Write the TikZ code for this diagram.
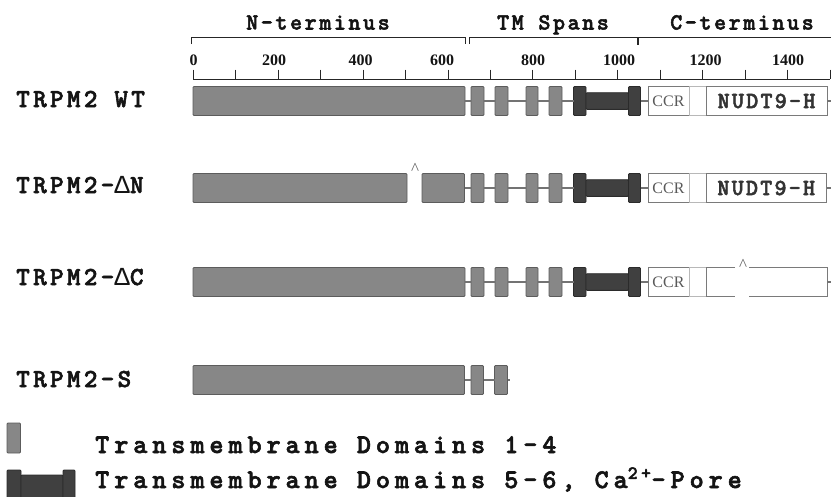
\documentclass[tikz,border=0pt]{standalone}
\usepackage{fontspec}
\setmainfont{Liberation Serif}
\newfontfamily\slab{lmmonolt10-bold.otf}[FakeBold=2.2]
\newfontfamily\deltafont{Liberation Mono}
\definecolor{tmfill}{gray}{0.53}
\definecolor{tmedge}{gray}{0.36}
\definecolor{porefill}{gray}{0.25}
\definecolor{poreedge}{gray}{0.17}
\definecolor{linkgray}{gray}{0.45}
\definecolor{boxedge}{gray}{0.48}
\definecolor{softedge}{gray}{0.72}
\definecolor{inktext}{gray}{0.08}

% rectangle node spanning x1..x2, y1..y2 (y grows downward)
\newcommand\segbox[7][]{%
  \node[#7, minimum width={(#4)-(#3)}, minimum height={(#6)-(#5)}] (#2)
    at ({((#3)+(#4))/2},{((#5)+(#6))/2}) {#1};}

% transmembrane block shared by the full-length constructs
\newcommand\tmcore[2]{%
  \segbox{#1-t1}{471}{484}{#2-14.5}{#2+14.5}{tm}
  \segbox{#1-t2}{495}{508}{#2-14.5}{#2+14.5}{tm}
  \segbox{#1-t3}{526}{538}{#2-14.5}{#2+14.5}{tm}
  \segbox{#1-t4}{549}{562}{#2-14.5}{#2+14.5}{tm}
  \segbox{#1-t5}{573.5}{586}{#2-14.5}{#2+14.5}{pore}
  \segbox{#1-pb}{586}{628.5}{#2-8.3}{#2+8.3}{pore}
  \segbox{#1-t6}{628.5}{640.5}{#2-14.5}{#2+14.5}{pore}
  \draw[link] (#1-n.east) -- (#1-t1.west);
  \draw[link] (#1-t1.east) -- (#1-t2.west);
  \draw[link] (#1-t2.east) -- (#1-t3.west);
  \draw[link] (#1-t3.east) -- (#1-t4.west);
  \draw[link] (#1-t4.east) -- (#1-t5.west);
}

% C-terminal CCR box
\newcommand\cterm[2]{%
  \segbox[\textcolor{gray!70!black}{CCR}]{#1-ccr}{648}{689}{#2-14.5}{#2+14.5}{cbox,font=\fontsize{16}{16}\selectfont}
  \draw[link] (#1-t6.east) -- (#1-ccr.west);
}

\newcommand\dlt{{\deltafont Δ}}

\begin{document}
\begin{tikzpicture}[x=1pt,y=-1pt,
  tm/.style={draw=tmedge, fill=tmfill, line width=0.9pt, rounded corners=1pt, inner sep=0pt, outer sep=0pt},
  pore/.style={draw=poreedge, fill=porefill, line width=0.9pt, rounded corners=1pt, inner sep=0pt, outer sep=0pt},
  cbox/.style={draw=boxedge, fill=white, line width=0.8pt, inner sep=0pt, outer sep=0pt},
  spacer/.style={draw=softedge, fill=white, line width=0.8pt, inner sep=0pt, outer sep=0pt},
  link/.style={draw=linkgray, line width=1.3pt},
  rowlabel/.style={font=\slab\fontsize{26}{26}\selectfont\addfontfeature{LetterSpace=12.5}, text=inktext, anchor=base west, inner sep=0pt},
  heading/.style={font=\slab\fontsize{23}{23}\selectfont\addfontfeature{LetterSpace=11}, text=inktext, anchor=base, inner sep=0pt},
  scalenum/.style={font=\bfseries\fontsize{16}{16}\selectfont, text=inktext, anchor=base, inner sep=0pt},
  legend/.style={font=\slab\fontsize{27}{27}\selectfont\addfontfeature{LetterSpace=18}, text=inktext, anchor=base west, inner sep=0pt},
  nudt/.style={cbox, font=\slab\fontsize{23}{23}\selectfont\addfontfeature{LetterSpace=9.5}},
  caret/.style={font=\fontsize{17}{17}\selectfont, text=gray!75!black, anchor=base, inner sep=0pt},
  ruler/.style={draw=black!85, line width=1pt}]
\useasboundingbox (0,0) rectangle (831,496);
\begin{scope}
\clip (0,0) rectangle (831,496);

% ---- region headings and brackets
\node[heading] (hN) at (318,29.5) {N-terminus};
\node[heading] (hTM) at (553,29.5) {TM Spans};
\node[heading] (hC) at (742,29.5) {C-terminus};
\draw[ruler] (191,44) -- (191,37) -- (465,37) -- (465,44);
\draw[ruler] (469,44) -- (469,37) -- (831,37);
\draw[ruler, line width=2pt] (638,37) -- (638,45);

% ---- amino-acid scale
\foreach \k in {0,...,15}
  \draw[ruler] ({193.3+42.45*\k},69.5) -- ({193.3+42.45*\k},79);
\draw[ruler] (193.3,79) -- (830,79);
\foreach \v/\px in {0/193.5,200/274,400/360.5,600/442,800/533,1000/619,1200/705.5,1400/788}
  \node[scalenum] (s\v) at (\px,65) {\v};

% ---- TRPM2 WT
\node[rowlabel] (lwt) at (16,107) {TRPM2 WT};
\segbox{wt-n}{193}{465}{86.5}{115.5}{tm}
\tmcore{wt}{101}
\cterm{wt}{101}
\segbox{wt-sp}{689}{706}{86.5}{115.5}{spacer}
\segbox[\textcolor{black!80}{NUDT9-H}]{wt-nudt}{706}{827}{86.5}{115.5}{nudt}
\coordinate (wt-end) at (831,101);
\draw[link] (wt-nudt.east) -- (wt-end);

% ---- TRPM2-dN
\node[rowlabel] (ldn) at (16,193) {TRPM2-\dlt N};
\segbox{dn-n0}{193}{407}{173.5}{202.5}{tm}
\segbox{dn-n}{422}{464.5}{173.5}{202.5}{tm}
\node[caret] (dn-cut) at (415,174) {\textasciicircum};
\tmcore{dn}{188}
\cterm{dn}{188}
\segbox{dn-sp}{689}{706}{173.5}{202.5}{spacer}
\segbox[\textcolor{black!80}{NUDT9-H}]{dn-nudt}{706}{826.5}{173.5}{202.5}{nudt}
\coordinate (dn-end) at (831,188);
\draw[link] (dn-nudt.east) -- (dn-end);

% ---- TRPM2-dC
\node[rowlabel] (ldc) at (16,285) {TRPM2-\dlt C};
\segbox{dc-n}{193}{465}{267.5}{296.5}{tm}
\tmcore{dc}{282}
\cterm{dc}{282}
\segbox{dc-sp}{689}{706}{267.5}{296.5}{spacer}
% truncated NUDT9-H region, open at the deletion
\draw[draw=boxedge, line width=0.8pt] (735,267.5) -- (706,267.5) -- (706,296.5) -- (735,296.5);
\draw[draw=boxedge, line width=0.8pt] (749,267.5) -- (827,267.5) -- (827,296.5) -- (749,296.5);
\node[caret] (dc-cut) at (743,270) {\textasciicircum};
\coordinate (dc-tail) at (827,282);
\coordinate (dc-end) at (831,282);
\draw[link] (dc-tail) -- (dc-end);

% ---- TRPM2-S
\node[rowlabel] (ls) at (16,387) {TRPM2-S};
\segbox{s-n}{193}{464.5}{365.5}{394.5}{tm}
\segbox{s-t1}{471}{483.5}{365.5}{394.5}{tm}
\segbox{s-t2}{494.5}{507.5}{365.5}{394.5}{tm}
\coordinate (s-end) at (509.5,380);
\draw[link] (s-n.east) -- (s-t1.west);
\draw[link] (s-t1.east) -- (s-t2.west);
\draw[link] (s-t2.east) -- (s-end);

% ---- legend
\segbox{key1}{7}{20.5}{423}{453}{tm}
\segbox{key2a}{7}{21}{470}{505}{pore}
\segbox{key2b}{21}{63}{475}{505}{pore}
\segbox{key2c}{63}{75}{470}{505}{pore}
\node[legend] (lk1) at (95,453) {Transmembrane Domains 1-4};
\node[legend] (lk2) at (95,488) {Transmembrane Domains 5-6, Ca\textsuperscript{2+}-Pore};
\end{scope}
\end{tikzpicture}
\end{document}
